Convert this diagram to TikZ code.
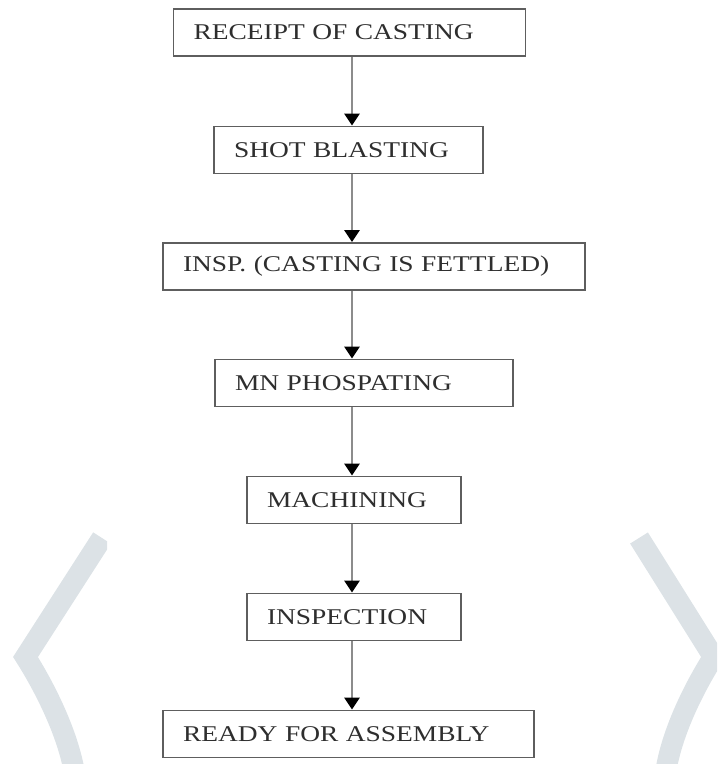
\documentclass[tikz,border=0pt]{standalone}
\usepackage{fontspec}
\setmainfont[FakeStretch=1.22, WordSpace=1.8]{Liberation Serif}
\usetikzlibrary{arrows.meta, positioning}
\definecolor{boxline}{HTML}{5E5E5E}
\definecolor{spinegray}{HTML}{8C8C8C}
\definecolor{inkgray}{HTML}{2E2E2E}
\definecolor{markgray}{HTML}{DCE2E6}
\newcommand\stagefont{\fontsize{12.8}{15}\selectfont}

\tikzset{
  stage/.style={draw=boxline, line width=1.1pt, fill=white, text=inkgray,
                align=left, inner xsep=0.4cm, minimum height=0.94cm,
                font=\stagefont},
  flow/.style={draw=spinegray, line width=1.6pt,
               -{Triangle[width=0.3cm, length=0.24cm, color=black]}},
  bracket/.style={draw=markgray, line width=0.42cm, line join=miter}
}

\begin{document}
\begin{tikzpicture}
  \useasboundingbox (0,0) rectangle (14.34,-15.28);

  % watermark brackets
  \begin{scope}
    \clip (0,0) rectangle (2.14,-15.28);
    \draw[bracket] (2.04,-10.76) -- (0.51,-13.14)
      .. controls (0.84,-13.66) and (1.32,-14.56) .. (1.48,-15.4);
  \end{scope}
  \begin{scope}
    \clip (12.46,0) rectangle (14.34,-15.28);
    \draw[bracket] (12.78,-10.76) -- (14.27,-13.14)
      .. controls (13.94,-13.66) and (13.46,-14.56) .. (13.32,-15.4);
  \end{scope}

  % process steps
  \coordinate (spine) at (7.04,0);
  \node[stage, text width=6.24cm] (receipt) at (6.99,-0.65)  {RECEIPT OF CASTING};
  \node[stage, text width=4.58cm] (shot)    at (6.97,-3.00)  {SHOT BLASTING};
  \node[stage, text width=7.64cm] (insp)    at (7.48,-5.33)  {\mbox{INSP. (CASTING IS FETTLED)}};
  \node[stage, text width=5.16cm] (phos)    at (7.28,-7.66)  {MN PHOSPATING};
  \node[stage, text width=3.48cm] (mach)    at (7.08,-10.00) {MACHINING};
  \node[stage, text width=3.48cm] (check)   at (7.08,-12.34) {INSPECTION};
  \node[stage, text width=6.62cm] (ready)   at (6.97,-14.68) {READY FOR ASSEMBLY};

  \draw[flow] (receipt.south -| spine) -- (shot.north -| spine);
  \draw[flow] (shot.south -| spine) -- (insp.north -| spine);
  \draw[flow] (insp.south -| spine) -- (phos.north -| spine);
  \draw[flow] (phos.south -| spine) -- (mach.north -| spine);
  \draw[flow] (mach.south -| spine) -- (check.north -| spine);
  \draw[flow] (check.south -| spine) -- (ready.north -| spine);
\end{tikzpicture}
\end{document}
